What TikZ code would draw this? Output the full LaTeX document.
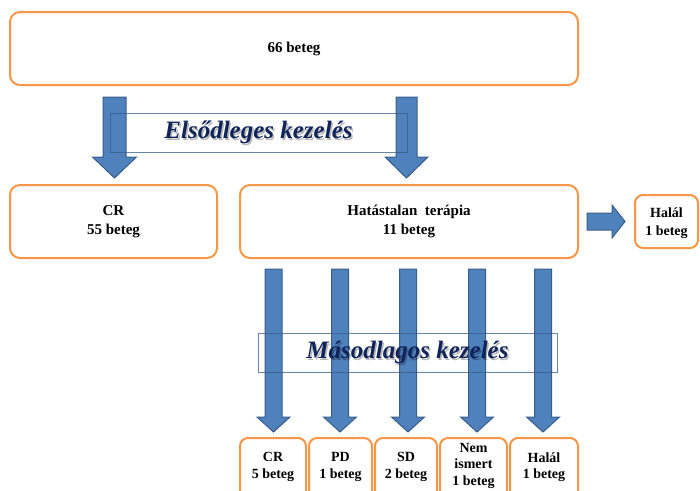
\documentclass[tikz,border=0pt]{standalone}
\usepackage{fontspec}
\setmainfont{Liberation Serif}
\definecolor{orbox}{HTML}{F79646}
\definecolor{arrfill}{HTML}{4F81BD}
\definecolor{arrdraw}{HTML}{385D8A}
\definecolor{navy}{HTML}{0F245A}
\newcommand\downarr[6]{%
  \draw[barrow] (#1-#5,#2) -- (#1+#5,#2) -- (#1+#5,#3) -- (#1+#6,#3) -- (#1,#4) -- (#1-#6,#3) -- (#1-#5,#3) -- cycle;}
\tikzset{
  obox/.style={draw=orbox, line width=2pt, rounded corners=10pt, fill=white, inner sep=0pt},
  sbox/.style={draw=orbox, line width=2pt, rounded corners=8pt, fill=white, inner sep=0pt},
  toptext/.style={font=\fontsize{15}{19}\selectfont\bfseries, align=center, text=black},
  bottext/.style={font=\fontsize{14}{16.5}\selectfont\bfseries, align=center, text=black},
  barrow/.style={fill=arrfill, draw=arrdraw, line width=1pt, line join=miter},
  lblbox/.style={draw=arrdraw, draw opacity=0.75, line width=0.9pt, inner sep=0pt},
  lbltext/.style={font=\fontsize{25}{29}\selectfont\bfseries\itshape, text=navy},
  lblshadow/.style={font=\fontsize{25}{29}\selectfont\bfseries\itshape, text=black, text opacity=0.28},
}
\begin{document}
\begin{tikzpicture}[x=1pt, y=-1pt]
\useasboundingbox (0,0) rectangle (700,490);
\clip (0,0) rectangle (700,490);
% top row
\node[obox, toptext, minimum width=568pt, minimum height=73pt] (all) at (294,48.5) {66 beteg};
% second row
\node[obox, toptext, minimum width=207pt, minimum height=73pt] (cr) at (113.5,221.5) {CR\\55 beteg};
\node[obox, toptext, minimum width=338pt, minimum height=73pt] (hat) at (409,221.5) {Hatástalan\ \ terápia\\11 beteg};
\node[sbox, minimum width=63pt, minimum height=53pt] (hal) at (666.5,221.5) {};
\node[font=\fontsize{14}{18}\selectfont\bfseries, align=center] (halt) at (666.5,223.5) {Halál\\1 beteg};
% bottom row boxes (cut by the lower edge)
\node[sbox, minimum width=66pt, minimum height=80pt] (b1) at (273,478) {};
\node[sbox, minimum width=63pt, minimum height=80pt] (b2) at (340.5,478) {};
\node[sbox, minimum width=62pt, minimum height=80pt] (b3) at (406,478) {};
\node[sbox, minimum width=67pt, minimum height=80pt] (b4) at (473.5,478) {};
\node[sbox, minimum width=68pt, minimum height=80pt] (b5) at (544,478) {};
\node[bottext] (t1) at (b1 |- 0,467) {CR\\5 beteg};
\node[bottext] (t2) at (b2 |- 0,467) {PD\\1 beteg};
\node[bottext] (t3) at (b3 |- 0,467) {SD\\2 beteg};
\node[bottext] (t4) at (b4 |- 0,465.5) {Nem\\ismert\\1 beteg};
\node[bottext] (t5) at (b5 |- 0,467) {Halál\\1 beteg};
% first level arrows
\downarr{114.5}{97}{157}{178}{11.5}{22}
\downarr{406.5}{97}{157}{178}{10.5}{21.5}
% right arrow
\draw[barrow] (587,213) -- (612,213) -- (612,205) -- (625,221.5) -- (612,238) -- (612,230) -- (587,230) -- cycle;
% second level arrows
\downarr{273.5}{269}{417}{432}{8.5}{16.5}
\downarr{340}{269}{417}{432}{8.5}{16.5}
\downarr{408}{269}{417}{432}{8.5}{16.5}
\downarr{477}{269}{417}{432}{8.5}{16.5}
\downarr{543}{269}{417}{432}{8.5}{16.5}
% label boxes
\node[lblbox, minimum width=297pt, minimum height=39pt] (l1) at (258.5,132.5) {};
\node[lblshadow] at ([xshift=1.5pt,yshift=-1.5pt]l1.center) {Elsődleges kezelés};
\node[lbltext] (l1t) at (l1.center) {Elsődleges kezelés};
\node[lblbox, minimum width=299pt, minimum height=39pt] (l2) at (407.5,352.5) {};
\node[lblshadow] at ([xshift=1.5pt,yshift=-1.5pt]l2.center) {Másodlagos kezelés};
\node[lbltext] (l2t) at (l2.center) {Másodlagos kezelés};
\end{tikzpicture}
\end{document}
